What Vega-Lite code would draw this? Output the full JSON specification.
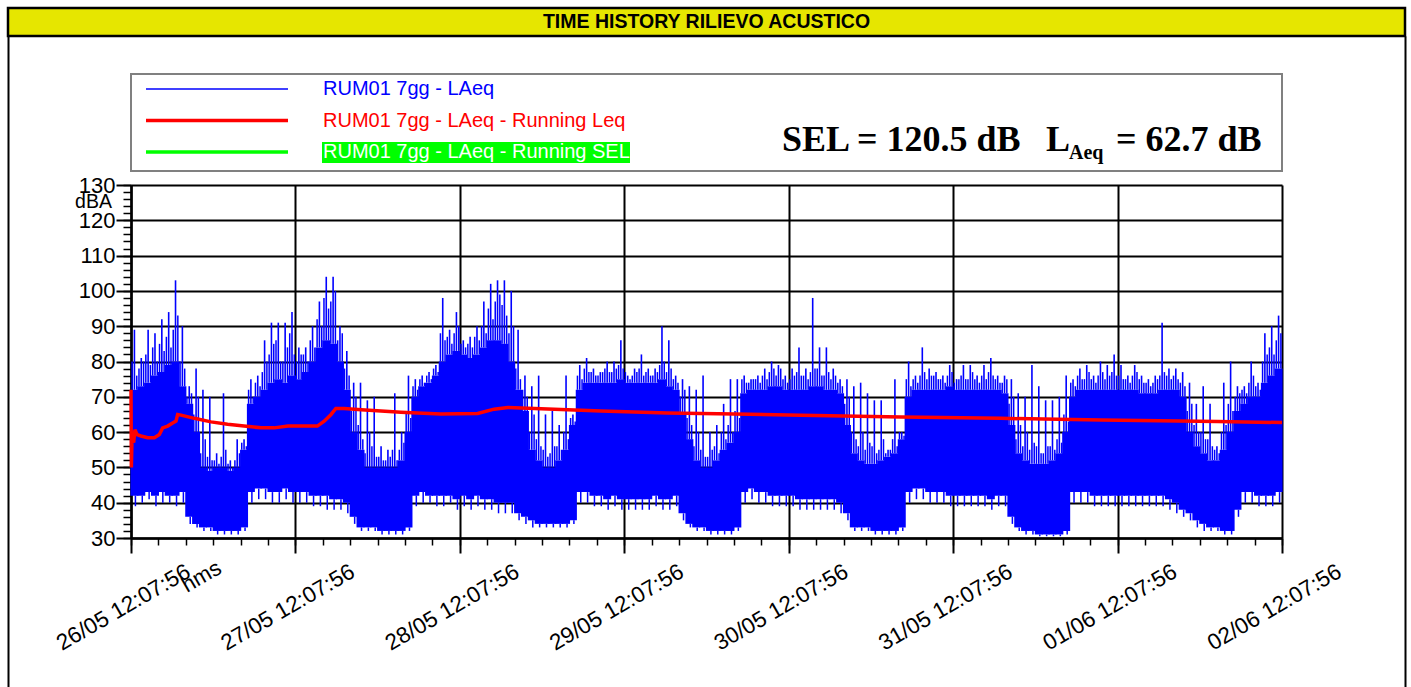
{
"$schema": "https://vega.github.io/schema/vega-lite/v6.json",
"background": "white",
"padding": {"left": 6, "top": 6, "right": 0, "bottom": 0},
"bounds": "flush",
"center": true,
"spacing": 14,
"config": {"font": "Liberation Sans", "view": {"stroke": null}, "axis": {"labelColor": "#000", "tickColor": "#000", "domainColor": "#000", "gridColor": "#000", "titleColor": "#000"}},
"datasets": {
"band": [
{"t":0.5,"lo":42,"hi":72,"pk":89,"g1":80,"g2":76,"dn":39},{"t":1.5,"lo":42,"hi":73,"pk":81,"g1":78,"g2":80,"dn":40},{"t":2.5,"lo":43,"hi":74,"pk":89,"g1":82,"g2":79,"dn":41},{"t":3.5,"lo":42,"hi":76,"pk":88,"g1":84,"g2":80,"dn":39},{"t":4.5,"lo":43,"hi":77,"pk":92,"g1":85,"g2":83,"dn":40},{"t":5.5,"lo":42,"hi":79,"pk":94,"g1":87,"g2":84,"dn":40},{"t":6.5,"lo":42,"hi":80,"pk":103,"g1":89,"g2":93,"dn":39},{"t":7.5,"lo":43,"hi":73,"pk":90,"g1":80,"g2":78,"dn":40},
{"t":8.5,"lo":36,"hi":68,"pk":73,"g1":70,"g2":71,"dn":34},{"t":9.5,"lo":34,"hi":60,"pk":78,"g1":65,"g2":70,"dn":33},{"t":10.5,"lo":33,"hi":50,"pk":72,"g1":54,"g2":58,"dn":32},{"t":11.5,"lo":33,"hi":49,"pk":70,"g1":53,"g2":52,"dn":32},{"t":12.5,"lo":32,"hi":50,"pk":54,"g1":52,"g2":51,"dn":31},{"t":13.5,"lo":32,"hi":50,"pk":71,"g1":53,"g2":55,"dn":31},{"t":14.5,"lo":32,"hi":49,"pk":52,"g1":51,"g2":50,"dn":31},{"t":15.5,"lo":32,"hi":50,"pk":58,"g1":52,"g2":54,"dn":31},{"t":16.5,"lo":33,"hi":55,"pk":58,"g1":57,"g2":56,"dn":32},
{"t":17.5,"lo":43,"hi":68,"pk":75,"g1":72,"g2":70,"dn":40},{"t":18.5,"lo":44,"hi":70,"pk":76,"g1":74,"g2":73,"dn":41},{"t":19.5,"lo":44,"hi":72,"pk":86,"g1":77,"g2":80,"dn":41},{"t":20.5,"lo":43,"hi":74,"pk":91,"g1":82,"g2":85,"dn":40},{"t":21.5,"lo":43,"hi":75,"pk":91,"g1":86,"g2":80,"dn":40},{"t":22.5,"lo":44,"hi":74,"pk":91,"g1":80,"g2":84,"dn":41},{"t":23.5,"lo":43,"hi":76,"pk":94,"g1":88,"g2":82,"dn":40},{"t":24.5,"lo":43,"hi":75,"pk":84,"g1":80,"g2":82,"dn":40},{"t":25.5,"lo":43,"hi":77,"pk":84,"g1":82,"g2":80,"dn":40},{"t":26.5,"lo":42,"hi":80,"pk":90,"g1":86,"g2":84,"dn":39},{"t":27.5,"lo":42,"hi":84,"pk":97,"g1":92,"g2":90,"dn":39},{"t":28.5,"lo":42,"hi":86,"pk":104,"g1":98,"g2":95,"dn":38},{"t":29.5,"lo":41,"hi":85,"pk":104,"g1":97,"g2":100,"dn":38},{"t":30.5,"lo":41,"hi":80,"pk":90,"g1":86,"g2":88,"dn":38},{"t":31.5,"lo":40,"hi":72,"pk":83,"g1":78,"g2":76,"dn":37},
{"t":32.5,"lo":36,"hi":60,"pk":74,"g1":66,"g2":70,"dn":34},{"t":33.5,"lo":33,"hi":55,"pk":74,"g1":62,"g2":58,"dn":32},{"t":34.5,"lo":33,"hi":50,"pk":69,"g1":54,"g2":60,"dn":32},{"t":35.5,"lo":33,"hi":50,"pk":70,"g1":56,"g2":53,"dn":32},{"t":36.5,"lo":32,"hi":50,"pk":56,"g1":53,"g2":52,"dn":31},{"t":37.5,"lo":32,"hi":50,"pk":55,"g1":52,"g2":53,"dn":31},{"t":38.5,"lo":32,"hi":50,"pk":71,"g1":55,"g2":52,"dn":31},{"t":39.5,"lo":32,"hi":52,"pk":60,"g1":55,"g2":57,"dn":31},{"t":40.5,"lo":33,"hi":60,"pk":76,"g1":66,"g2":64,"dn":32},
{"t":41.5,"lo":42,"hi":70,"pk":75,"g1":73,"g2":72,"dn":39},{"t":42.5,"lo":43,"hi":73,"pk":76,"g1":75,"g2":74,"dn":40},{"t":43.5,"lo":42,"hi":74,"pk":77,"g1":76,"g2":75,"dn":40},{"t":44.5,"lo":42,"hi":76,"pk":79,"g1":78,"g2":77,"dn":39},{"t":45.5,"lo":42,"hi":80,"pk":98,"g1":88,"g2":86,"dn":39},{"t":46.5,"lo":42,"hi":82,"pk":89,"g1":87,"g2":85,"dn":40},{"t":47.5,"lo":41,"hi":83,"pk":94,"g1":88,"g2":90,"dn":38},{"t":48.5,"lo":42,"hi":82,"pk":86,"g1":85,"g2":84,"dn":39},{"t":49.5,"lo":41,"hi":81,"pk":87,"g1":85,"g2":84,"dn":38},{"t":50.5,"lo":42,"hi":82,"pk":90,"g1":87,"g2":86,"dn":39},{"t":51.5,"lo":41,"hi":84,"pk":97,"g1":90,"g2":88,"dn":38},{"t":52.5,"lo":41,"hi":86,"pk":102,"g1":95,"g2":92,"dn":38},{"t":53.5,"lo":40,"hi":86,"pk":103,"g1":97,"g2":99,"dn":37},{"t":54.5,"lo":40,"hi":85,"pk":103,"g1":96,"g2":93,"dn":37},{"t":55.5,"lo":40,"hi":80,"pk":100,"g1":88,"g2":90,"dn":37},
{"t":56.5,"lo":37,"hi":72,"pk":89,"g1":78,"g2":75,"dn":35},{"t":57.5,"lo":36,"hi":66,"pk":76,"g1":72,"g2":70,"dn":34},{"t":58.5,"lo":35,"hi":55,"pk":73,"g1":60,"g2":65,"dn":33},{"t":59.5,"lo":34,"hi":52,"pk":76,"g1":58,"g2":56,"dn":33},{"t":60.5,"lo":34,"hi":50,"pk":65,"g1":55,"g2":53,"dn":33},{"t":61.5,"lo":34,"hi":50,"pk":66,"g1":54,"g2":56,"dn":33},{"t":62.5,"lo":34,"hi":52,"pk":62,"g1":56,"g2":55,"dn":33},{"t":63.5,"lo":34,"hi":55,"pk":76,"g1":60,"g2":58,"dn":33},{"t":64.5,"lo":35,"hi":62,"pk":65,"g1":64,"g2":63,"dn":34},
{"t":65.5,"lo":43,"hi":72,"pk":79,"g1":76,"g2":75,"dn":40},{"t":66.5,"lo":43,"hi":74,"pk":81,"g1":78,"g2":77,"dn":40},{"t":67.5,"lo":42,"hi":74,"pk":78,"g1":77,"g2":76,"dn":39},{"t":68.5,"lo":42,"hi":74,"pk":77,"g1":76,"g2":77,"dn":39},{"t":69.5,"lo":41,"hi":74,"pk":80,"g1":78,"g2":77,"dn":38},{"t":70.5,"lo":42,"hi":74,"pk":80,"g1":77,"g2":78,"dn":39},{"t":71.5,"lo":41,"hi":75,"pk":86,"g1":79,"g2":78,"dn":38},{"t":72.5,"lo":41,"hi":74,"pk":76,"g1":77,"g2":75,"dn":38},{"t":73.5,"lo":41,"hi":74,"pk":78,"g1":76,"g2":77,"dn":38},{"t":74.5,"lo":41,"hi":74,"pk":82,"g1":78,"g2":76,"dn":38},{"t":75.5,"lo":41,"hi":74,"pk":78,"g1":77,"g2":76,"dn":38},{"t":76.5,"lo":42,"hi":74,"pk":78,"g1":76,"g2":77,"dn":39},{"t":77.5,"lo":41,"hi":75,"pk":90,"g1":79,"g2":80,"dn":38},{"t":78.5,"lo":41,"hi":73,"pk":86,"g1":77,"g2":78,"dn":38},{"t":79.5,"lo":42,"hi":72,"pk":76,"g1":75,"g2":74,"dn":39},
{"t":80.5,"lo":37,"hi":65,"pk":75,"g1":70,"g2":72,"dn":35},{"t":81.5,"lo":34,"hi":58,"pk":73,"g1":64,"g2":62,"dn":33},{"t":82.5,"lo":33,"hi":52,"pk":72,"g1":56,"g2":60,"dn":32},{"t":83.5,"lo":33,"hi":50,"pk":76,"g1":55,"g2":53,"dn":32},{"t":84.5,"lo":32,"hi":50,"pk":60,"g1":53,"g2":55,"dn":31},{"t":85.5,"lo":32,"hi":52,"pk":62,"g1":56,"g2":54,"dn":31},{"t":86.5,"lo":32,"hi":55,"pk":68,"g1":60,"g2":58,"dn":31},{"t":87.5,"lo":32,"hi":57,"pk":75,"g1":62,"g2":60,"dn":31},{"t":88.5,"lo":33,"hi":60,"pk":75,"g1":66,"g2":64,"dn":32},
{"t":89.5,"lo":43,"hi":71,"pk":76,"g1":75,"g2":74,"dn":40},{"t":90.5,"lo":44,"hi":72,"pk":75,"g1":74,"g2":75,"dn":41},{"t":91.5,"lo":43,"hi":72,"pk":76,"g1":75,"g2":74,"dn":40},{"t":92.5,"lo":43,"hi":72,"pk":78,"g1":76,"g2":75,"dn":40},{"t":93.5,"lo":42,"hi":73,"pk":80,"g1":77,"g2":78,"dn":39},{"t":94.5,"lo":42,"hi":73,"pk":79,"g1":76,"g2":78,"dn":39},{"t":95.5,"lo":42,"hi":72,"pk":76,"g1":75,"g2":74,"dn":39},{"t":96.5,"lo":42,"hi":72,"pk":78,"g1":75,"g2":76,"dn":39},{"t":97.5,"lo":41,"hi":72,"pk":84,"g1":77,"g2":76,"dn":38},{"t":98.5,"lo":41,"hi":72,"pk":78,"g1":76,"g2":75,"dn":38},{"t":99.5,"lo":41,"hi":73,"pk":98,"g1":77,"g2":78,"dn":38},{"t":100.5,"lo":41,"hi":73,"pk":84,"g1":78,"g2":76,"dn":38},{"t":101.5,"lo":41,"hi":72,"pk":84,"g1":76,"g2":77,"dn":38},{"t":102.5,"lo":41,"hi":72,"pk":78,"g1":75,"g2":76,"dn":38},{"t":103.5,"lo":40,"hi":71,"pk":75,"g1":74,"g2":73,"dn":37},
{"t":104.5,"lo":37,"hi":62,"pk":75,"g1":68,"g2":70,"dn":35},{"t":105.5,"lo":33,"hi":54,"pk":73,"g1":60,"g2":58,"dn":32},{"t":106.5,"lo":33,"hi":52,"pk":74,"g1":56,"g2":60,"dn":32},{"t":107.5,"lo":33,"hi":51,"pk":71,"g1":55,"g2":57,"dn":32},{"t":108.5,"lo":32,"hi":51,"pk":69,"g1":56,"g2":54,"dn":31},{"t":109.5,"lo":32,"hi":52,"pk":69,"g1":55,"g2":58,"dn":31},{"t":110.5,"lo":32,"hi":53,"pk":55,"g1":54,"g2":55,"dn":31},{"t":111.5,"lo":32,"hi":54,"pk":75,"g1":58,"g2":56,"dn":31},{"t":112.5,"lo":33,"hi":58,"pk":60,"g1":60,"g2":59,"dn":32},
{"t":113.5,"lo":43,"hi":70,"pk":80,"g1":75,"g2":73,"dn":40},{"t":114.5,"lo":44,"hi":72,"pk":76,"g1":75,"g2":74,"dn":41},{"t":115.5,"lo":44,"hi":72,"pk":84,"g1":76,"g2":77,"dn":41},{"t":116.5,"lo":43,"hi":72,"pk":78,"g1":75,"g2":76,"dn":40},{"t":117.5,"lo":43,"hi":72,"pk":77,"g1":76,"g2":75,"dn":40},{"t":118.5,"lo":43,"hi":72,"pk":76,"g1":75,"g2":74,"dn":40},{"t":119.5,"lo":42,"hi":73,"pk":79,"g1":76,"g2":77,"dn":39},{"t":120.5,"lo":42,"hi":72,"pk":75,"g1":74,"g2":75,"dn":39},{"t":121.5,"lo":42,"hi":72,"pk":79,"g1":76,"g2":75,"dn":39},{"t":122.5,"lo":42,"hi":72,"pk":79,"g1":75,"g2":77,"dn":39},{"t":123.5,"lo":42,"hi":72,"pk":76,"g1":75,"g2":74,"dn":39},{"t":124.5,"lo":42,"hi":72,"pk":79,"g1":76,"g2":75,"dn":39},{"t":125.5,"lo":41,"hi":72,"pk":81,"g1":77,"g2":76,"dn":38},{"t":126.5,"lo":42,"hi":72,"pk":76,"g1":75,"g2":74,"dn":39},{"t":127.5,"lo":42,"hi":71,"pk":76,"g1":74,"g2":75,"dn":39},
{"t":128.5,"lo":36,"hi":62,"pk":75,"g1":68,"g2":70,"dn":34},{"t":129.5,"lo":33,"hi":54,"pk":71,"g1":58,"g2":62,"dn":32},{"t":130.5,"lo":32,"hi":52,"pk":70,"g1":56,"g2":60,"dn":31},{"t":131.5,"lo":32,"hi":51,"pk":79,"g1":55,"g2":57,"dn":31},{"t":132.5,"lo":31,"hi":51,"pk":73,"g1":56,"g2":54,"dn":30.5},{"t":133.5,"lo":31,"hi":51,"pk":69,"g1":54,"g2":56,"dn":30.5},{"t":134.5,"lo":31,"hi":52,"pk":69,"g1":56,"g2":55,"dn":30.5},{"t":135.5,"lo":31,"hi":54,"pk":70,"g1":58,"g2":57,"dn":30.5},{"t":136.5,"lo":32,"hi":60,"pk":76,"g1":65,"g2":63,"dn":31},
{"t":137.5,"lo":43,"hi":70,"pk":75,"g1":74,"g2":73,"dn":40},{"t":138.5,"lo":43,"hi":72,"pk":78,"g1":76,"g2":75,"dn":40},{"t":139.5,"lo":43,"hi":72,"pk":79,"g1":75,"g2":77,"dn":40},{"t":140.5,"lo":42,"hi":72,"pk":76,"g1":75,"g2":74,"dn":39},{"t":141.5,"lo":42,"hi":72,"pk":80,"g1":76,"g2":77,"dn":39},{"t":142.5,"lo":42,"hi":72,"pk":79,"g1":75,"g2":76,"dn":39},{"t":143.5,"lo":42,"hi":72,"pk":82,"g1":77,"g2":76,"dn":39},{"t":144.5,"lo":42,"hi":72,"pk":79,"g1":76,"g2":75,"dn":39},{"t":145.5,"lo":42,"hi":72,"pk":76,"g1":75,"g2":74,"dn":39},{"t":146.5,"lo":42,"hi":72,"pk":79,"g1":76,"g2":77,"dn":39},{"t":147.5,"lo":42,"hi":71,"pk":76,"g1":75,"g2":74,"dn":39},{"t":148.5,"lo":42,"hi":71,"pk":75,"g1":74,"g2":73,"dn":39},{"t":149.5,"lo":42,"hi":71,"pk":76,"g1":74,"g2":75,"dn":39},{"t":150.5,"lo":42,"hi":72,"pk":91,"g1":76,"g2":77,"dn":39},{"t":151.5,"lo":41,"hi":72,"pk":78,"g1":76,"g2":75,"dn":38},
{"t":152.5,"lo":40,"hi":72,"pk":78,"g1":76,"g2":75,"dn":37},{"t":153.5,"lo":38,"hi":70,"pk":77,"g1":74,"g2":73,"dn":36},{"t":154.5,"lo":37,"hi":60,"pk":74,"g1":66,"g2":68,"dn":35},{"t":155.5,"lo":35,"hi":56,"pk":68,"g1":62,"g2":60,"dn":33},{"t":156.5,"lo":34,"hi":54,"pk":73,"g1":60,"g2":58,"dn":32},{"t":157.5,"lo":33,"hi":52,"pk":68,"g1":58,"g2":56,"dn":32},{"t":158.5,"lo":33,"hi":52,"pk":56,"g1":55,"g2":54,"dn":32},{"t":159.5,"lo":32,"hi":55,"pk":74,"g1":60,"g2":62,"dn":31},{"t":160.5,"lo":32,"hi":60,"pk":80,"g1":68,"g2":66,"dn":31},{"t":161.5,"lo":38,"hi":66,"pk":73,"g1":70,"g2":71,"dn":36},
{"t":162.5,"lo":43,"hi":68,"pk":73,"g1":72,"g2":71,"dn":40},{"t":163.5,"lo":43,"hi":70,"pk":80,"g1":74,"g2":76,"dn":40},{"t":164.5,"lo":42,"hi":70,"pk":74,"g1":73,"g2":72,"dn":39},{"t":165.5,"lo":42,"hi":74,"pk":88,"g1":80,"g2":82,"dn":39},{"t":166.5,"lo":42,"hi":76,"pk":90,"g1":84,"g2":82,"dn":39},{"t":167.5,"lo":43,"hi":78,"pk":93,"g1":86,"g2":88,"dn":40}
],
"leq": [
{"h":0,"v":72,"series":"RUM01 7gg - LAeq - Running Leq"},{"h":0.05,"v":50,"series":"RUM01 7gg - LAeq - Running Leq"},{"h":0.15,"v":58.4,"series":"RUM01 7gg - LAeq - Running Leq"},{"h":0.39,"v":57,"series":"RUM01 7gg - LAeq - Running Leq"},{"h":0.58,"v":60.7,"series":"RUM01 7gg - LAeq - Running Leq"},{"h":0.88,"v":59.3,"series":"RUM01 7gg - LAeq - Running Leq"},{"h":1.46,"v":58.9,"series":"RUM01 7gg - LAeq - Running Leq"},{"h":2.43,"v":58.4,"series":"RUM01 7gg - LAeq - Running Leq"},{"h":3.41,"v":58.4,"series":"RUM01 7gg - LAeq - Running Leq"},{"h":4.14,"v":59.3,"series":"RUM01 7gg - LAeq - Running Leq"},{"h":4.62,"v":61.2,"series":"RUM01 7gg - LAeq - Running Leq"},{"h":5.35,"v":61.7,"series":"RUM01 7gg - LAeq - Running Leq"},{"h":6.08,"v":62.6,"series":"RUM01 7gg - LAeq - Running Leq"},{"h":6.57,"v":63.1,"series":"RUM01 7gg - LAeq - Running Leq"},{"h":6.81,"v":65,"series":"RUM01 7gg - LAeq - Running Leq"},{"h":7.3,"v":64.8,"series":"RUM01 7gg - LAeq - Running Leq"},{"h":9.24,"v":63.9,"series":"RUM01 7gg - LAeq - Running Leq"},{"h":11.68,"v":62.9,"series":"RUM01 7gg - LAeq - Running Leq"},{"h":14.1,"v":62.2,"series":"RUM01 7gg - LAeq - Running Leq"},{"h":16.5,"v":61.7,"series":"RUM01 7gg - LAeq - Running Leq"},{"h":19,"v":61.2,"series":"RUM01 7gg - LAeq - Running Leq"},{"h":20.9,"v":61.2,"series":"RUM01 7gg - LAeq - Running Leq"},{"h":22.9,"v":61.7,"series":"RUM01 7gg - LAeq - Running Leq"},{"h":24.8,"v":61.7,"series":"RUM01 7gg - LAeq - Running Leq"},{"h":27.2,"v":61.7,"series":"RUM01 7gg - LAeq - Running Leq"},{"h":28.2,"v":63.1,"series":"RUM01 7gg - LAeq - Running Leq"},{"h":29.2,"v":65,"series":"RUM01 7gg - LAeq - Running Leq"},{"h":29.9,"v":66.7,"series":"RUM01 7gg - LAeq - Running Leq"},{"h":31.1,"v":66.7,"series":"RUM01 7gg - LAeq - Running Leq"},{"h":33.6,"v":66.3,"series":"RUM01 7gg - LAeq - Running Leq"},{"h":39.4,"v":65.6,"series":"RUM01 7gg - LAeq - Running Leq"},{"h":45.2,"v":65.1,"series":"RUM01 7gg - LAeq - Running Leq"},{"h":50.6,"v":65.3,"series":"RUM01 7gg - LAeq - Running Leq"},{"h":53,"v":66.5,"series":"RUM01 7gg - LAeq - Running Leq"},{"h":55,"v":67,"series":"RUM01 7gg - LAeq - Running Leq"},{"h":58.9,"v":66.7,"series":"RUM01 7gg - LAeq - Running Leq"},{"h":68.6,"v":66,"series":"RUM01 7gg - LAeq - Running Leq"},{"h":78.3,"v":65.4,"series":"RUM01 7gg - LAeq - Running Leq"},{"h":88.1,"v":65.1,"series":"RUM01 7gg - LAeq - Running Leq"},{"h":97.8,"v":64.8,"series":"RUM01 7gg - LAeq - Running Leq"},{"h":112.4,"v":64.3,"series":"RUM01 7gg - LAeq - Running Leq"},{"h":127,"v":63.9,"series":"RUM01 7gg - LAeq - Running Leq"},{"h":141.6,"v":63.4,"series":"RUM01 7gg - LAeq - Running Leq"},{"h":158.6,"v":63,"series":"RUM01 7gg - LAeq - Running Leq"},{"h":168,"v":62.7,"series":"RUM01 7gg - LAeq - Running Leq"}
]
},
"vconcat": [
{
"width": 1397, "height": 28,
"view": {"fill": "#E6E600", "stroke": "#000", "strokeWidth": 2.5},
"data": {"values": [{"label": "TIME HISTORY RILIEVO ACUSTICO"}]},
"mark": {"type": "text", "font": "Liberation Sans", "fontSize": 19.5, "fontWeight": "bold", "color": "#000", "baseline": "middle"},
"encoding": {"text": {"field": "label"}}
},
{"width": 1151, "height": 10, "data": {"values": [{}]}, "mark": {"type": "text", "text": ""}},
{
"width": 1151, "height": 97,
"view": {"stroke": "#808080", "strokeWidth": 2},
"layer": [
{"data": {"values": [{"txt": "SEL = 120.5 dB"}]}, "mark": {"type": "text", "font": "Liberation Serif", "fontWeight": "bold", "fontSize": 36, "align": "left", "baseline": "alphabetic", "dx": 75.5, "dy": 28.5, "color": "#000"}, "encoding": {"text": {"field": "txt"}}},
{"data": {"values": [{"txt": "L"}]}, "mark": {"type": "text", "font": "Liberation Serif", "fontWeight": "bold", "fontSize": 36, "align": "left", "baseline": "alphabetic", "dx": 339.5, "dy": 28.5, "color": "#000"}, "encoding": {"text": {"field": "txt"}}},
{"data": {"values": [{"txt": "Aeq"}]}, "mark": {"type": "text", "font": "Liberation Serif", "fontWeight": "bold", "fontSize": 20, "align": "left", "baseline": "alphabetic", "dx": 362.5, "dy": 36, "color": "#000"}, "encoding": {"text": {"field": "txt"}}},
{"data": {"values": [{"txt": "= 62.7 dB"}]}, "mark": {"type": "text", "font": "Liberation Serif", "fontWeight": "bold", "fontSize": 36, "align": "left", "baseline": "alphabetic", "dx": 409.5, "dy": 28.5, "color": "#000"}, "encoding": {"text": {"field": "txt"}}}
]
},
{
"width": 1151, "height": 353,
"resolve": {"axis": {"x": "independent", "y": "independent"}, "scale": {"y": "independent"}},
"layer": [
{
"data": {"values": [{"b": 0, "t": 0}]},
"mark": {"type": "point", "opacity": 0},
"encoding": {
"x": {"field": "t", "type": "quantitative", "scale": {"domain": [0, 168], "nice": false, "zero": false}, "axis": null},
"y": {"field": "b", "type": "quantitative", "scale": {"domain": [0, 1], "range": [520, -149]}, "axis": {"orient": "left", "offset": 123, "domain": true, "domainWidth": 2, "ticks": false, "labels": false, "grid": false, "title": null}}}
},
{
"data": {"values": [{"b": 0, "t": 0}]},
"mark": {"type": "point", "opacity": 0},
"encoding": {
"x": {"field": "t", "type": "quantitative", "scale": {"domain": [0, 168], "nice": false, "zero": false}, "axis": null},
"y": {"field": "b", "type": "quantitative", "scale": {"domain": [0, 1], "range": [520, -149]}, "axis": {"orient": "right", "offset": 123, "domain": true, "domainWidth": 2, "ticks": false, "labels": false, "grid": false, "title": null}}}
},
{
"data": {"name": "band"},
"mark": {"type": "rule", "color": "#0000FF", "strokeWidth": 8},
"encoding": {
"x": {"field": "t", "type": "quantitative", "scale": {"domain": [0, 168], "nice": false, "zero": false}, "axis": {"orient": "bottom", "values": [0,4,8,12,16,20,24,28,32,36,40,44,48,52,56,60,64,68,72,76,80,84,88,92,96,100,104,108,112,116,120,124,128,132,136,140,144,148,152,156,160,164,168], "tickSize": 7, "tickWidth": 1.5, "labels": false, "domain": false, "grid": false, "title": null}},
"y": {"field": "lo", "type": "quantitative", "scale": {"domain": [30, 130], "nice": false, "zero": false}, "axis": {"orient": "left", "values": [30,32,34,36,38,40,42,44,46,48,50,52,54,56,58,60,62,64,66,68,70,72,74,76,78,80,82,84,86,88,90,92,94,96,98,100,102,104,106,108,110,112,114,116,118,120,122,124,126,128,130], "tickSize": 8, "tickWidth": 1.5, "labels": false, "domain": false, "grid": false, "title": null}},
"y2": {"field": "hi"}
}
},
{
"data": {"name": "band"},
"mark": {"type": "rule", "color": "#0000FF", "strokeWidth": 1.5, "xOffset": -2.3},
"encoding": {
"x": {"field": "t", "type": "quantitative", "scale": {"domain": [0, 168], "nice": false, "zero": false}, "axis": null},
"y": {"field": "hi", "type": "quantitative", "scale": {"domain": [30, 130], "nice": false, "zero": false}, "axis": null},
"y2": {"field": "g1"}
}
},
{
"data": {"name": "band"},
"mark": {"type": "rule", "color": "#0000FF", "strokeWidth": 1.5, "xOffset": 2.3},
"encoding": {
"x": {"field": "t", "type": "quantitative", "scale": {"domain": [0, 168], "nice": false, "zero": false}, "axis": null},
"y": {"field": "hi", "type": "quantitative", "scale": {"domain": [30, 130], "nice": false, "zero": false}, "axis": null},
"y2": {"field": "g2"}
}
},
{
"data": {"name": "band"},
"mark": {"type": "rule", "color": "#0000FF", "strokeWidth": 1.6},
"encoding": {
"x": {"field": "t", "type": "quantitative", "scale": {"domain": [0, 168], "nice": false, "zero": false}, "axis": null},
"y": {"field": "hi", "type": "quantitative", "scale": {"domain": [30, 130], "nice": false, "zero": false}, "axis": null},
"y2": {"field": "pk"}
}
},
{
"data": {"name": "band"},
"mark": {"type": "rule", "color": "#0000FF", "strokeWidth": 1.5, "xOffset": 1},
"encoding": {
"x": {"field": "t", "type": "quantitative", "scale": {"domain": [0, 168], "nice": false, "zero": false}, "axis": null},
"y": {"field": "dn", "type": "quantitative", "scale": {"domain": [30, 130], "nice": false, "zero": false}, "axis": null},
"y2": {"field": "lo"}
}
},
{
"data": {"name": "leq"},
"mark": {"type": "line", "strokeWidth": 3.5},
"encoding": {
"x": {"field": "h", "type": "quantitative", "scale": {"domain": [0, 168], "nice": false, "zero": false}, "axis": {"orient": "bottom", "values": [0,24,48,72,96,120,144,168], "tickSize": 15, "tickWidth": 2, "grid": true, "gridColor": "#000", "gridWidth": 2, "domain": true, "domainWidth": 2.5, "labelExpr": "['26/05','27/05','28/05','29/05','30/05','31/05','01/06','02/06'][round(datum.value/24)] + ' 12:07:56'", "labelAngle": -30, "labelFontSize": 22.5, "labelAlign": "center", "labelBaseline": "middle", "labelPadding": 54, "labelOffset": -8, "labelOverlap": false, "labelFlush": false, "title": "hms", "titleFontSize": 22, "titleFontWeight": "normal", "titleAngle": -30, "titleX": 70, "titleY": 38, "titleAlign": "center", "titleBaseline": "middle"}},
"y": {"field": "v", "type": "quantitative", "scale": {"domain": [30, 130], "nice": false, "zero": false}, "axis": {"orient": "left", "values": [30,40,50,60,70,80,90,100,110,120,130], "tickSize": 15, "tickWidth": 2, "grid": true, "gridColor": "#000", "gridWidth": 2, "domain": true, "domainWidth": 2.5, "labelFontSize": 22, "labelPadding": 1, "title": "dBA", "titleAngle": 0, "titleX": -38, "titleY": 16.5, "titleFontSize": 19.5, "titleFontWeight": "normal", "titleAlign": "center", "titleBaseline": "middle"}},
"color": {"field": "series", "type": "nominal", "scale": {"domain": ["RUM01 7gg - LAeq", "RUM01 7gg - LAeq - Running Leq", "RUM01 7gg - LAeq - Running SEL"], "range": ["#0000FF", "#FF0000", "#00FF00"]},
"legend": {"orient": "none", "legendX": 199, "legendY": 71, "title": null, "padding": 0, "symbolType": "M-7.1,0H7.1", "symbolSize": 400, "symbolStrokeWidth": 3.5, "labelFontSize": 20, "labelOffset": 96, "rowPadding": 11.5, "labelLimit": 0,
"encode": {
"symbols": {"update": {
"shape": {"signal": "datum.value == 'RUM01 7gg - LAeq - Running SEL' ? 'M-7.1,-0.175H7.1V0.175H-7.1ZM10.5,-1H41.3V1.1H10.5Z' : 'M-7.1,0H7.1'"},
"fill": {"signal": "datum.value == 'RUM01 7gg - LAeq - Running SEL' ? '#00FF00' : 'transparent'"},
"strokeWidth": {"signal": "datum.value == 'RUM01 7gg - LAeq' ? 1.5 : (datum.value == 'RUM01 7gg - LAeq - Running SEL' ? 0 : 3.5)"}
}},
"labels": {"update": {"fill": {"signal": "datum.value == 'RUM01 7gg - LAeq' ? '#0000FF' : (datum.value == 'RUM01 7gg - LAeq - Running Leq' ? '#FF0000' : '#FFFFFF')"}}}
}}
}
}
}
]
}
]
}
